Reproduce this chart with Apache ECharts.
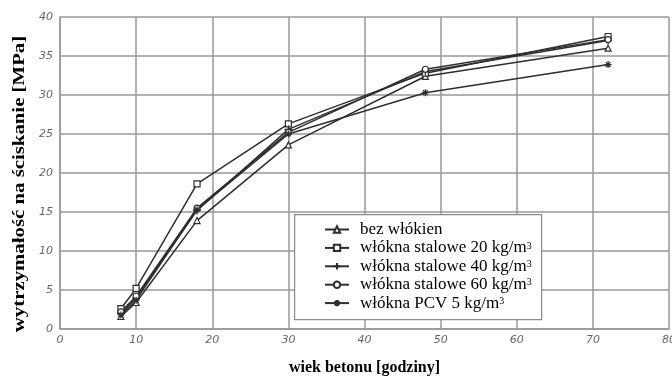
<!DOCTYPE html>
<html>
<head>
<meta charset="utf-8">
<script src="https://cdn.jsdelivr.net/npm/echarts@6/dist/echarts.min.js"></script>
<style>
  html, body { margin: 0; padding: 0; background: #fff; }
  #chart { width: 672px; height: 378px; }
</style>
</head>
<body>
<div id="chart"></div>
<script>
// Concrete age at testing [hours]
const ages = [8, 10, 18, 30, 48, 72];

// Compressive strength [MPa] for each fibre mix
const bezWlokien = [1.6, 3.4, 13.9, 23.6, 32.4, 36.0];
const stal20 = [2.6, 5.2, 18.6, 26.3, 32.8, 37.5];
const stal40 = [2.0, 4.0, 15.2, 25.6, 33.0, 37.0];
const stal60 = [2.2, 4.2, 15.5, 25.2, 33.3, 37.1];
const pcv5 = [1.8, 3.7, 15.3, 25.0, 30.3, 33.9];

const seriesNames = [
  'bez włókien',
  'włókna stalowe 20 kg/m3',
  'włókna stalowe 40 kg/m3',
  'włókna stalowe 60 kg/m3',
  'włókna PCV 5 kg/m3'
];

const xTicks = { min: 0, max: 80, interval: 10 };
const yTicks = { min: 0, max: 40, interval: 5 };

const xTitle = 'wiek betonu [godziny]';
const yTitle = 'wytrzymałość na ściskanie [MPa]';

const LINE = '#2e2e2e';
const GRID = '#989898';
const SERIF = '"Liberation Serif", "Times New Roman", serif';
const TICK_FONT = '"DejaVu Sans", sans-serif';

const markers = [
  'triangle',
  'rect',
  'path://M0,5L10,5M5,0L5,10',
  'circle',
  'path://M0,5L10,5M5,0L5,10M1.5,1.5L8.5,8.5M8.5,1.5L1.5,8.5'
];
const markerSizes = [6, 6, 8, 6, 7];
const values = [bezWlokien, stal20, stal40, stal60, pcv5];

const series = seriesNames.map((name, i) => ({
  name: name,
  type: 'line',
  data: ages.map((a, k) => [a, values[i][k]]),
  symbol: markers[i],
  symbolSize: markerSizes[i],
  showAllSymbol: true,
  lineStyle: { color: LINE, width: 1.5 },
  itemStyle: {
    color: i === 2 || i === 4 ? LINE : '#ffffff',
    borderColor: LINE,
    borderWidth: 1.2
  },
  emphasis: { disabled: true },
  z: 3
}));

const chart = echarts.init(document.getElementById('chart'), null, { renderer: 'canvas' });

chart.setOption({
  animation: false,
  backgroundColor: '#ffffff',
  grid: { left: 60, right: 3, top: 17, bottom: 49, containLabel: false, outerBoundsMode: 'none' },
  xAxis: {
    type: 'value',
    min: xTicks.min,
    max: xTicks.max,
    interval: xTicks.interval,
    name: xTitle,
    nameLocation: 'middle',
    nameGap: 31,
    nameTextStyle: { fontFamily: SERIF, fontWeight: 'bold', fontSize: 16, color: '#000' },
    axisLine: { show: true, lineStyle: { color: GRID, width: 1.5 } },
    axisTick: { show: false },
    axisLabel: { margin: 6, fontFamily: TICK_FONT, fontStyle: 'italic', fontSize: 11, color: '#666' },
    splitLine: { show: true, lineStyle: { color: GRID, width: 1.5 } }
  },
  yAxis: {
    type: 'value',
    min: yTicks.min,
    max: yTicks.max,
    interval: yTicks.interval,
    axisLine: { show: true, lineStyle: { color: GRID, width: 1.5 } },
    axisTick: { show: false },
    axisLabel: { margin: 7, fontFamily: TICK_FONT, fontStyle: 'italic', fontSize: 11, color: '#666' },
    splitLine: { show: true, lineStyle: { color: GRID, width: 1.5 } }
  },
  legend: {
    orient: 'vertical',
    left: 324,
    top: 221,
    padding: 0,
    itemGap: 1.4,
    itemWidth: 24,
    itemHeight: 8,
    selectedMode: false,
    data: seriesNames,
    formatter: (name) => name.replace(/m3$/, 'm{sup|3}'),
    textStyle: {
      fontFamily: SERIF,
      fontSize: 17,
      color: '#000',
      lineHeight: 14,
      padding: [0, 0, 0, 6],
      rich: {
        sup: { fontFamily: SERIF, fontSize: 10, color: '#000', lineHeight: 14, verticalAlign: 'top' }
      }
    }
  },
  graphic: [
    {
      type: 'rect',
      left: 294,
      top: 214,
      shape: { width: 247, height: 105 },
      style: { fill: '#ffffff', stroke: '#8a8a8a', lineWidth: 1.2 },
      z: 4
    },
    {
      // vertical axis title, drawn bottom-to-top
      type: 'text',
      x: 20,
      y: 184,
      rotation: Math.PI / 2,
      scaleX: 1.3,
      style: {
        text: yTitle,
        font: 'bold 16px ' + SERIF,
        fill: '#000',
        align: 'center',
        verticalAlign: 'middle',
        textAlign: 'center',
        textVerticalAlign: 'middle'
      },
      z: 5
    }
  ],
  series: series
});
</script>
</body>
</html>
